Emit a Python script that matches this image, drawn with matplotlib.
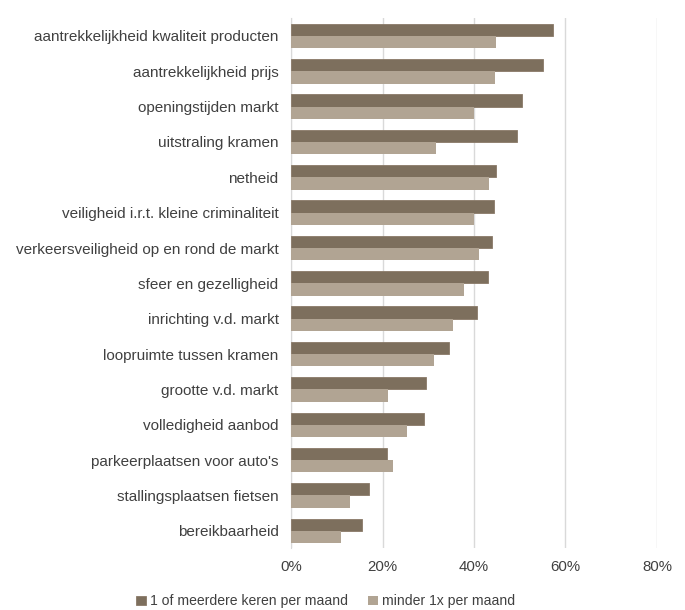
import matplotlib.pyplot as plt
from matplotlib.ticker import FuncFormatter
import numpy as np

plt.rcParams['font.family'] = ['Liberation Sans', 'DejaVu Sans']

categories = [
    "aantrekkelijkheid kwaliteit producten",
    "aantrekkelijkheid prijs",
    "openingstijden markt",
    "uitstraling kramen",
    "netheid",
    "veiligheid i.r.t. kleine criminaliteit",
    "verkeersveiligheid op en rond de markt",
    "sfeer en gezelligheid",
    "inrichting v.d. markt",
    "loopruimte tussen kramen",
    "grootte v.d. markt",
    "volledigheid aanbod",
    "parkeerplaatsen voor auto's",
    "stallingsplaatsen fietsen",
    "bereikbaarheid",
]
often = [57.3, 55.0, 50.6, 49.3, 44.9, 44.3, 44.0, 43.0, 40.7, 34.5, 29.4, 29.1, 20.9, 17.0, 15.5]
less = [44.9, 44.6, 39.9, 31.6, 43.3, 40.1, 41.1, 37.7, 35.5, 31.3, 21.2, 25.3, 22.2, 12.9, 11.0]
series_names = ["1 of meerdere keren per maand", "minder 1x per maand"]

dark = "#7d6f5d"
light = "#b1a493"
text_col = "#404040"

fig = plt.figure(figsize=(6.85, 6.10), dpi=100)
ax = fig.add_axes([0.425, 0.101, 0.534, 0.869])

y = np.arange(len(categories))
h = 0.345
ax.barh(y - h / 2, often, height=h, color=dark, edgecolor="#8a7a68", linewidth=0.6,
        label=series_names[0], zorder=3)
ax.barh(y + h / 2, less, height=h, color=light, edgecolor="none",
        label=series_names[1], zorder=3)

ax.set_ylim(len(categories) - 0.5, -0.5)
ax.set_yticks(y)
ax.set_yticklabels(categories, fontsize=11, color=text_col)
ax.set_xlim(0, 80)
ax.set_xticks([0, 20, 40, 60, 80])
ax.xaxis.set_major_formatter(FuncFormatter(lambda v, p: f"{v:.0f}%"))
ax.tick_params(axis="x", labelsize=10.8, colors=text_col, length=0, pad=8)
ax.tick_params(axis="y", length=0, pad=9)
ax.grid(axis="x", color="#d9d9d9", linewidth=1, zorder=0)
for s in ["top", "right", "bottom"]:
    ax.spines[s].set_visible(False)
ax.spines["left"].set_color("#d9d9d9")

leg = fig.legend(loc="lower left", bbox_to_anchor=(0.18, -0.018), ncol=2, frameon=False,
                 fontsize=10.1, handlelength=0.7, handleheight=0.7, handletextpad=0.3,
                 columnspacing=1.45)
for t in leg.get_texts():
    t.set_color(text_col)

fig.savefig("out.png", dpi=100)
